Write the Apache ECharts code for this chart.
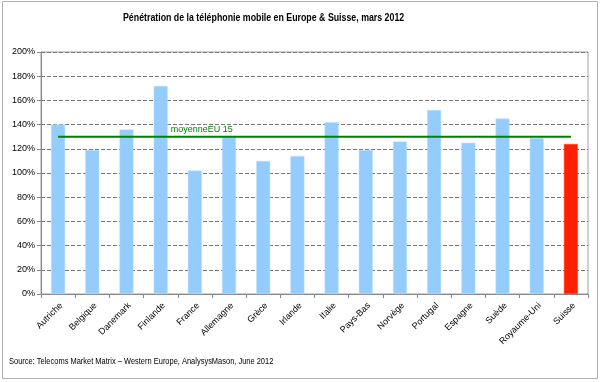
<!DOCTYPE html>
<html><head><meta charset="utf-8">
<script src="https://cdn.jsdelivr.net/npm/echarts@6/dist/echarts.min.js"></script>
<style>html,body{margin:0;padding:0;background:#fff}#c{width:600px;height:382px}</style>
</head><body><div id="c"></div>
<script>
const categories = ['Autriche','Belgique','Danemark','Finlande','France','Allemagne','Grèce','Irlande','Italie','Pays-Bas','Norvège','Portugal','Espagne','Suède','Royaume-Uni','Suisse'];
const penetration = [140,119,136,172,102,130,110,114,142,119,126,152,125,145,129,124];
const highlight = 'Suisse';
const euAverage = 130;
const avgLabel = 'moyenneEU 15';
const avgLabelAt = 'France';
const yTicks = {min:0, max:200, interval:20};

const chart = echarts.init(document.getElementById('c'));
const font = 'Liberation Sans, Arial, sans-serif';
chart.setOption({
  animation:false,
  textStyle:{fontFamily:font},
  graphic:[
    {type:'rect', shape:{x:2.5,y:1.5,width:595,height:377}, style:{fill:null, stroke:'#b0b0b0', lineWidth:1}, silent:true},
    {type:'text', x:123, y:18, scaleX:0.8, style:{text:'Pénétration de la téléphonie mobile en Europe & Suisse, mars 2012', font:'bold 11px Liberation Sans, Arial, sans-serif', fill:'#000', textVerticalAlign:'middle', verticalAlign:'middle'}},
    {type:'text', x:9, y:362, scaleX:0.83, style:{text:'Source: Telecoms Market Matrix – Western Europe, AnalysysMason, June 2012', font:'9px Liberation Sans, Arial, sans-serif', fill:'#000', verticalAlign:'middle'}}
  ],
  grid:{left:41, right:12, top:52, bottom:88, show:true, borderColor:'#a0a0a0', borderWidth:1},
  xAxis:{type:'category', data:categories,
    axisLine:{lineStyle:{color:'#888'}},
    axisTick:{show:true, length:4, lineStyle:{color:'#888'}},
    axisLabel:{rotate:45, fontSize:9, color:'#000', interval:0, margin:7, verticalAlign:'top', fontFamily:font}},
  yAxis:{type:'value', min:yTicks.min, max:yTicks.max, interval:yTicks.interval,
    axisLine:{show:true, lineStyle:{color:'#888'}},
    axisTick:{show:true, length:4, lineStyle:{color:'#888'}},
    axisLabel:{formatter:'{value}%', fontSize:9, color:'#000', margin:6, fontFamily:font},
    splitLine:{lineStyle:{type:[4,2], color:'#777'}}},
  series:[
    {type:'bar', barWidth:14,
      data:penetration.map((v,i)=>({value:v, itemStyle:{color: categories[i]===highlight ? '#ff2000' : '#94cdfd', borderColor: categories[i]===highlight ? '#ff4020':'#bfe0ff', borderWidth:0.5}}))},
    {type:'line', symbol:'circle', symbolSize:0.01, showSymbol:true, lineStyle:{color:'#008000', width:2}, itemStyle:{color:'#008000'}, z:5,
      data:categories.map(c=>({value:euAverage, label: c===avgLabelAt ? {show:true, position:'top', offset:[7,2], formatter:avgLabel, color:'#008000', fontSize:9, fontFamily:font} : {show:false}}))}
  ]
});
</script></body></html>
